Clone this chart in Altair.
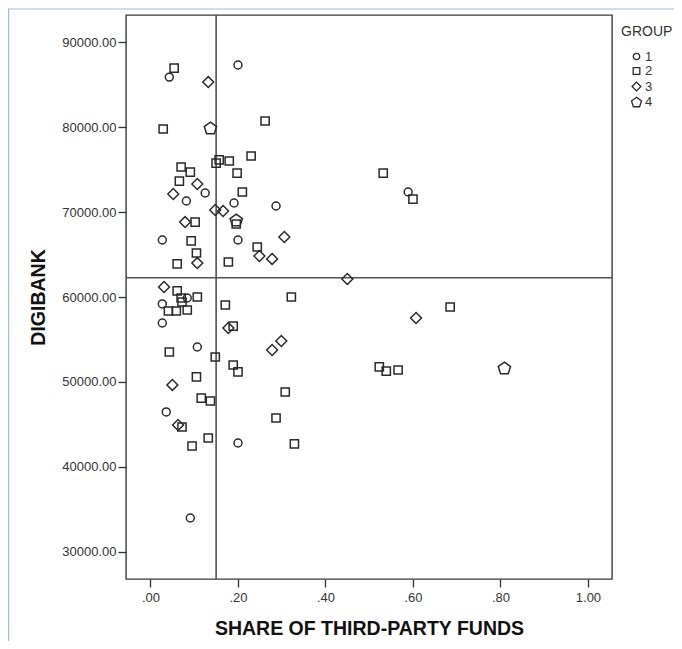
import altair as alt
import pandas as pd

# ---- data ----
g1_x = [0.043, 0.200, 0.125, 0.082, 0.191, 0.027, 0.200, 0.287, 0.084, 0.027,
        0.027, 0.107, 0.036, 0.200, 0.091, 0.589]
g1_y = [85900, 87330, 72250, 71310, 71070, 66710, 66710, 70720, 59880, 59180,
        56940, 54110, 46460, 42800, 33970, 72370]

g2_x = [0.054, 0.029, 0.262, 0.230, 0.157, 0.150, 0.180, 0.070, 0.091, 0.198,
        0.066, 0.210, 0.102, 0.196, 0.093, 0.244, 0.105, 0.061, 0.178, 0.061,
        0.107, 0.070, 0.072, 0.041, 0.059, 0.084, 0.171, 0.189, 0.043, 0.148,
        0.189, 0.200, 0.105, 0.116, 0.137, 0.072, 0.132, 0.095, 0.322, 0.308,
        0.287, 0.329, 0.532, 0.600, 0.685, 0.523, 0.539, 0.566]
g2_y = [86970, 79790, 80730, 76610, 76140, 75780, 76020, 75310, 74720, 74600,
        73660, 72370, 68830, 68600, 66600, 65890, 65180, 63890, 64120, 60710,
        60000, 59880, 59410, 58350, 58350, 58470, 59060, 56580, 53520, 52930,
        51990, 51170, 50580, 48100, 47750, 44690, 43390, 42450, 60000, 48810,
        45750, 42690, 74600, 71540, 58820, 51760, 51280, 51400]

g3_x = [0.132, 0.107, 0.052, 0.148, 0.166, 0.079, 0.249, 0.278, 0.306, 0.107,
        0.031, 0.178, 0.050, 0.063, 0.450, 0.278, 0.299, 0.607]
g3_y = [85320, 73310, 72130, 70250, 70130, 68830, 64830, 64480, 67070, 64000,
        61180, 56350, 49640, 44920, 62120, 53760, 54820, 57530]

g4_x = [0.137, 0.196, 0.809]
g4_y = [79910, 69070, 51640]

groups = ["1", "2", "3", "4"]
mean_x = [0.150]
mean_y = [62270]

x_ticks = [0.0, 0.2, 0.4, 0.6, 0.8, 1.0]
y_ticks = [30000, 40000, 50000, 60000, 70000, 80000, 90000]

rows = []
for g, xs, ys in zip(groups, [g1_x, g2_x, g3_x, g4_x], [g1_y, g2_y, g3_y, g4_y]):
    for a, b in zip(xs, ys):
        rows.append({"GROUP": g, "share": a, "digibank": b})
df = pd.DataFrame(rows)

# outline symbols (unit paths, scaled by sqrt(size)/2)
circle_p = "M0.95,0A0.95,0.95,0,1,1,-0.95,0A0.95,0.95,0,1,1,0.95,0Z"
square_p = "M-0.98,-0.98H0.98V0.98H-0.98Z"
diamond_p = "M-1.3,0L0,-1.3L1.3,0L0,1.3Z"
pentagon_p = "M0,-1.4L1.474,-0.331L0.911,1.402L-0.911,1.402L-1.474,-0.331Z"

FONT = "Liberation Sans"
INK = "#333333"
MARK = "#2a2a2a"

xscale = alt.Scale(domain=[-0.056, 1.055], nice=False, zero=False)
yscale = alt.Scale(domain=[26784, 93216], nice=False, zero=False)

points = alt.Chart(df).mark_point(filled=False, strokeWidth=1.5, color=MARK, opacity=1, size=70).encode(
    x=alt.X("share:Q", scale=xscale,
            axis=alt.Axis(values=x_ticks, title="SHARE OF THIRD-PARTY FUNDS",
                          labelExpr="datum.value < 1 ? slice(format(datum.value, '.2f'), 1) : format(datum.value, '.2f')",
                          titleY=55, titleBaseline="alphabetic", labelPadding=4)),
    y=alt.Y("digibank:Q", scale=yscale,
            axis=alt.Axis(values=y_ticks, format=".2f", title="DIGIBANK",
                          titleX=-82, titleY=282, titleBaseline="alphabetic",
                          titleAlign="center", labelPadding=2)),
    shape=alt.Shape("GROUP:N",
                    scale=alt.Scale(domain=groups, range=[circle_p, square_p, diamond_p, pentagon_p]),
                    legend=alt.Legend(title="GROUP", orient="none", legendX=495, legendY=10,
                                      symbolSize=46, symbolStrokeWidth=1.3, symbolStrokeColor=MARK,
                                      symbolFillColor="transparent",
                                      symbolOffset=9, labelOffset=2, rowPadding=0.5, titlePadding=11,
                                      padding=0, titleFontSize=14, titleFontWeight="normal",
                                      labelFontSize=13, titleColor=INK, labelColor=INK,
                                      titleFont=FONT, labelFont=FONT)),
)

vline = alt.Chart(pd.DataFrame({"mx": mean_x})).mark_rule(color="#444444", strokeWidth=1.5).encode(
    x=alt.X("mx:Q", scale=xscale))
hline = alt.Chart(pd.DataFrame({"my": mean_y})).mark_rule(color="#555555", strokeWidth=1.5).encode(
    y=alt.Y("my:Q", scale=yscale))

border_top = alt.Chart(pd.DataFrame({"a": [0]})).mark_rule(color="#9dbde6", strokeWidth=1.2).encode(
    x=alt.value(-118), x2=alt.value(548), y=alt.value(-6))
border_left = alt.Chart(pd.DataFrame({"a": [0]})).mark_rule(color="#9dbde6", strokeWidth=1.2).encode(
    x=alt.value(-117.4), y=alt.value(-6), y2=alt.value(626))

chart = alt.layer(border_top, border_left, vline, hline, points).properties(
    width=486, height=564,
    autosize=alt.AutoSizeParams(type="none"),
    padding={"left": 118, "top": 7, "right": 62, "bottom": 62},
    background="white",
).configure_view(
    stroke="#3a3a3a", strokeWidth=1.4
).configure_axis(
    domain=False, grid=False, tickColor=INK, tickSize=8, tickWidth=1.3,
    labelColor=INK, labelFont=FONT, labelFontSize=13,
    titleFont=FONT, titleFontSize=19.5, titleFontWeight="bold", titleColor="#111111",
)

chart.save("out.html", embed_options={"renderer": "svg", "actions": False})
